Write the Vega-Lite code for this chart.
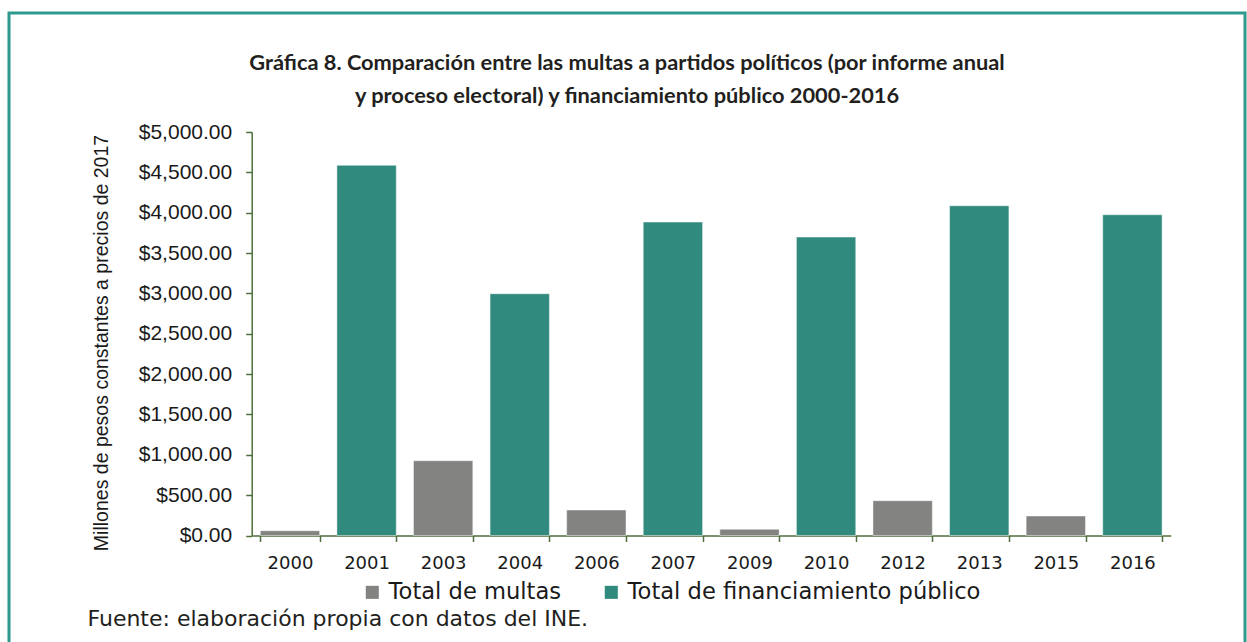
{
  "$schema": "https://vega.github.io/schema/vega-lite/v6.json",
  "width": 1236,
  "height": 629,
  "autosize": {"type": "none"},
  "padding": {"left": 9, "top": 13, "right": 2, "bottom": 0},
  "background": "white",
  "title": {
    "text": ["Gráfica 8. Comparación entre las multas a partidos políticos (por informe anual", "y proceso electoral) y financiamiento público 2000-2016"],
    "orient": "top",
    "anchor": "middle",
    "frame": "group",
    "offset": -112,
    "baseline": "alphabetic",
    "lineHeight": 33,
    "font": "Lato",
    "fontSize": 21.8,
    "fontWeight": "bold",
    "color": "#231f20"
  },
  "data": {
    "values": [
      {"year": "2000", "serie": "Total de multas", "value": 59},
      {"year": "2001", "serie": "Total de financiamiento público", "value": 4587},
      {"year": "2003", "serie": "Total de multas", "value": 927},
      {"year": "2004", "serie": "Total de financiamiento público", "value": 2996},
      {"year": "2006", "serie": "Total de multas", "value": 316},
      {"year": "2007", "serie": "Total de financiamiento público", "value": 3884},
      {"year": "2009", "serie": "Total de multas", "value": 77},
      {"year": "2010", "serie": "Total de financiamiento público", "value": 3698},
      {"year": "2012", "serie": "Total de multas", "value": 431},
      {"year": "2013", "serie": "Total de financiamiento público", "value": 4086},
      {"year": "2015", "serie": "Total de multas", "value": 242},
      {"year": "2016", "serie": "Total de financiamiento público", "value": 3975}
    ]
  },
  "mark": {"type": "bar", "stroke": "#ffffff", "strokeWidth": 1, "strokeOpacity": 0.45},
  "encoding": {
    "x": {
      "field": "year",
      "type": "nominal",
      "sort": null,
      "scale": {"range": [242.7, 1161.7], "paddingInner": 0.225, "paddingOuter": 0.1125},
      "axis": {
        "orient": "bottom",
        "offset": -106.5,
        "labelAngle": 0,
        "tickBand": "extent",
        "tickSize": 6,
        "tickColor": "#4e6e3c",
        "domainColor": "#4e6e3c",
        "domainWidth": 1.5,
        "tickWidth": 1.5,
        "labelPadding": 12.5,
        "labelFont": "DejaVu Sans",
        "labelFontSize": 18,
        "labelColor": "#1a1a1a",
        "grid": false,
        "title": "Fuente: elaboración propia con datos del INE.",
        "titleX": 78,
        "titleY": 89.5,
        "titleAlign": "left",
        "titleAnchor": "start",
        "titleBaseline": "alphabetic",
        "titleFont": "DejaVu Sans",
        "titleFontSize": 22,
        "titleFontWeight": "normal",
        "titleColor": "#231f20"
      }
    },
    "y": {
      "field": "value",
      "type": "quantitative",
      "scale": {"domain": [0, 5000], "range": [522.5, 119], "nice": false, "zero": true},
      "axis": {
        "offset": -242.7,
        "values": [0, 500, 1000, 1500, 2000, 2500, 3000, 3500, 4000, 4500, 5000],
        "format": "$,.2f",
        "tickSize": 6,
        "tickColor": "#4e6e3c",
        "domainColor": "#4e6e3c",
        "domainWidth": 1.5,
        "tickWidth": 1.5,
        "labelPadding": 14,
        "labelFont": "Liberation Sans",
        "labelFontSize": 21,
        "labelColor": "#1a1a1a",
        "grid": false,
        "title": "Millones de pesos  constantes a precios de 2017",
        "titleFont": "Liberation Sans",
        "titleFontSize": 19.5,
        "titleFontWeight": "normal",
        "titleColor": "#1a1a1a",
        "titlePadding": 27,
        "titleY": 329.5
      }
    },
    "color": {
      "field": "serie",
      "type": "nominal",
      "scale": {"domain": ["Total de multas", "Total de financiamiento público"], "range": ["#838482", "#318a7e"]},
      "legend": {
        "orient": "none",
        "legendX": 352,
        "legendY": 568,
        "direction": "horizontal",
        "title": null,
        "symbolType": "square",
        "symbolSize": 170,
        "symbolStrokeWidth": 0,
        "labelFont": "DejaVu Sans",
        "labelFontSize": 22.6,
        "labelColor": "#1a1a1a",
        "labelOffset": 5,
        "columnPadding": 38,
        "padding": 0,
        "labelLimit": 500
      }
    }
  },
  "config": {
    "view": {"stroke": "#2e9a8e", "strokeWidth": 3, "strokeDash": [1865, 1236, 629]}
  }
}
